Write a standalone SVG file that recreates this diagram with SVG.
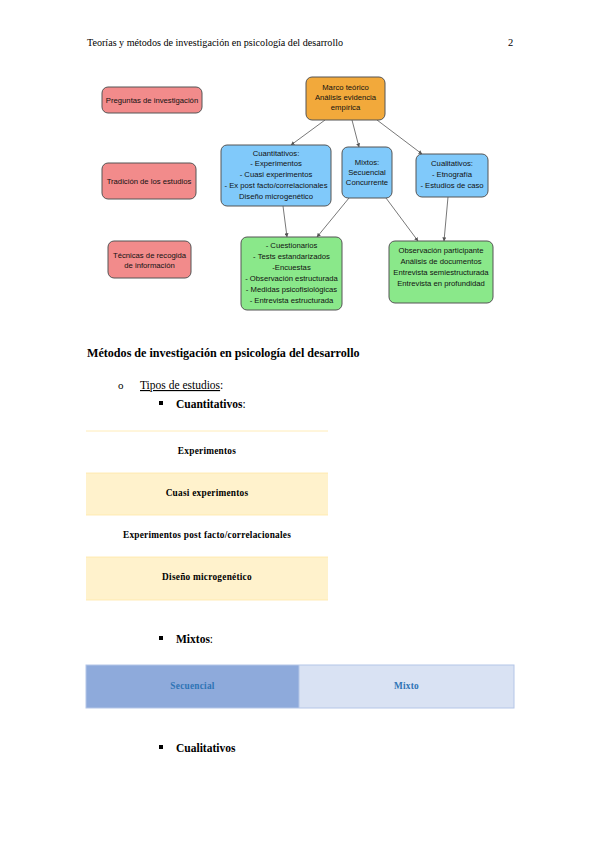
<svg xmlns="http://www.w3.org/2000/svg" width="599" height="848" viewBox="0 0 599 848">
<style>
.doc{font-family:"Liberation Serif",serif;fill:#000}
.n{font-family:"Liberation Sans",Arial,sans-serif;font-size:7.7px;fill:#111;text-anchor:middle}
.box{stroke:#555;stroke-width:1}
.pink{fill:#f28b8b}
.orange{fill:#f2a93b}
.blue{fill:#80c9fa}
.green{fill:#8ae88a}
.edge{stroke:#555;stroke-width:0.8;fill:none;marker-end:url(#ah)}
.tb{font-family:"Liberation Serif",serif;font-size:9.3px;font-weight:bold;text-anchor:middle;fill:#000;letter-spacing:0.25px}
.bul{fill:#000}
</style>
<defs>
<marker id="ah" viewBox="0 0 6 6" refX="5.5" refY="3" markerWidth="5" markerHeight="5" orient="auto">
<path d="M0,0 L6,3 L0,6 z" fill="#555"/>
</marker>
</defs>
<rect width="599" height="848" fill="#fff"/>
<text class="doc" x="87" y="46" font-size="10.1">Teorías y métodos de investigación en psicología del desarrollo</text>
<text class="doc" x="508" y="46" font-size="10.5">2</text>

<g id="connectors">
<line class="edge" x1="325" y1="120" x2="291" y2="145"/>
<line class="edge" x1="352" y1="120" x2="359" y2="147"/>
<line class="edge" x1="377" y1="120" x2="422" y2="154"/>
<line class="edge" x1="283" y1="206" x2="287" y2="237"/>
<line class="edge" x1="349" y1="198" x2="317" y2="237"/>
<line class="edge" x1="386" y1="198" x2="418" y2="241"/>
<line class="edge" x1="448" y1="197" x2="444" y2="241"/>
</g>

<g id="preguntas"><rect class="box pink" x="102" y="87" width="100" height="26" rx="6"/><text class="n" x="152" y="103">Preguntas de investigación</text></g>
<g id="tradicion"><rect class="box pink" x="102" y="163" width="94" height="36" rx="6"/><text class="n" x="149" y="184">Tradición de los estudios</text></g>
<g id="tecnicas"><rect class="box pink" x="108" y="241" width="83" height="37" rx="6"/><text class="n" x="149.5" y="258">Técnicas de recogida</text><text class="n" x="149.5" y="268">de información</text></g>

<g id="marco"><rect class="box orange" x="306" y="77" width="79" height="43" rx="6"/><text class="n" x="345.5" y="90">Marco teórico</text><text class="n" x="345.5" y="100">Análisis evidencia</text><text class="n" x="345.5" y="110">empírica</text></g>

<g id="cuantitativos"><rect class="box blue" x="221" y="145" width="110" height="61" rx="6"/>
<text class="n" x="276" y="156">Cuantitativos:</text>
<text class="n" x="276" y="166">- Experimentos</text>
<text class="n" x="276" y="177">- Cuasi experimentos</text>
<text class="n" x="276" y="188">- Ex post facto/correlacionales</text>
<text class="n" x="276" y="199">Diseño microgenético</text></g>

<g id="mixtos"><rect class="box blue" x="342" y="147" width="50" height="51" rx="6"/>
<text class="n" x="367" y="165">Mixtos:</text>
<text class="n" x="367" y="175">Secuencial</text>
<text class="n" x="367" y="185">Concurrente</text></g>

<g id="cualitativos"><rect class="box blue" x="416" y="154" width="72" height="43" rx="6"/>
<text class="n" x="452" y="166">Cualitativos:</text>
<text class="n" x="452" y="177">- Etnografía</text>
<text class="n" x="452" y="188">- Estudios de caso</text></g>

<g id="tecnicas-cuant"><rect class="box green" x="241" y="237" width="101" height="73" rx="6"/>
<text class="n" x="291.5" y="248">- Cuestionarios</text>
<text class="n" x="291.5" y="259">- Tests estandarizados</text>
<text class="n" x="291.5" y="270">-Encuestas</text>
<text class="n" x="291.5" y="281">- Observación estructurada</text>
<text class="n" x="291.5" y="292">- Medidas psicofisiológicas</text>
<text class="n" x="291.5" y="303">- Entrevista estructurada</text></g>

<g id="tecnicas-cual"><rect class="box green" x="389" y="241" width="104" height="62" rx="6"/>
<text class="n" x="441" y="253">Observación participante</text>
<text class="n" x="441" y="264">Análisis de documentos</text>
<text class="n" x="441" y="275">Entrevista semiestructurada</text>
<text class="n" x="441" y="286">Entrevista en profundidad</text></g>

<text class="doc" x="87" y="357" font-size="12.1" font-weight="bold">Métodos de investigación en psicología del desarrollo</text>
<text class="doc" x="118" y="389" font-size="11">o</text>
<text class="doc" x="140" y="389" font-size="11.5"><tspan text-decoration="underline">Tipos de estudios</tspan>:</text>
<rect class="bul" x="159" y="401" width="4" height="4"/>
<text class="doc" x="176" y="408" font-size="11.5"><tspan font-weight="bold">Cuantitativos</tspan>:</text>

<g id="tabla-cuant">
<rect x="86" y="473" width="242" height="42" fill="#fff2cc"/>
<rect x="86" y="557" width="242" height="43" fill="#fff2cc"/>
<g stroke="#ffe7a6" stroke-width="0.8">
<line x1="86" y1="431" x2="328" y2="431"/>
<line x1="86" y1="473" x2="328" y2="473"/>
<line x1="86" y1="515" x2="328" y2="515"/>
<line x1="86" y1="557" x2="328" y2="557"/>
<line x1="86" y1="600" x2="328" y2="600"/>
</g>
<text class="tb" x="207" y="454">Experimentos</text>
<text class="tb" x="207" y="496">Cuasi experimentos</text>
<text class="tb" x="207" y="538">Experimentos post facto/correlacionales</text>
<text class="tb" x="207" y="580">Diseño microgenético</text>
</g>

<rect class="bul" x="159" y="636" width="4" height="4"/>
<text class="doc" x="176" y="643" font-size="11.5"><tspan font-weight="bold">Mixtos</tspan>:</text>

<g id="tabla-mixtos">
<rect x="86" y="665" width="213" height="43" fill="#8eaadb"/>
<rect x="299" y="665" width="215" height="43" fill="#d9e2f3"/>
<rect x="86" y="665" width="428" height="43" fill="none" stroke="#b4c6e7" stroke-width="1"/>
<line x1="299" y1="665" x2="299" y2="708" stroke="#b4c6e7" stroke-width="1"/>
<text class="tb" x="192.5" y="689" style="fill:#2e74b5">Secuencial</text>
<text class="tb" x="406.5" y="689" style="fill:#2e74b5">Mixto</text>
</g>

<rect class="bul" x="159" y="745" width="4" height="4"/>
<text class="doc" x="176" y="752" font-size="11.5" font-weight="bold">Cualitativos</text>
</svg>
